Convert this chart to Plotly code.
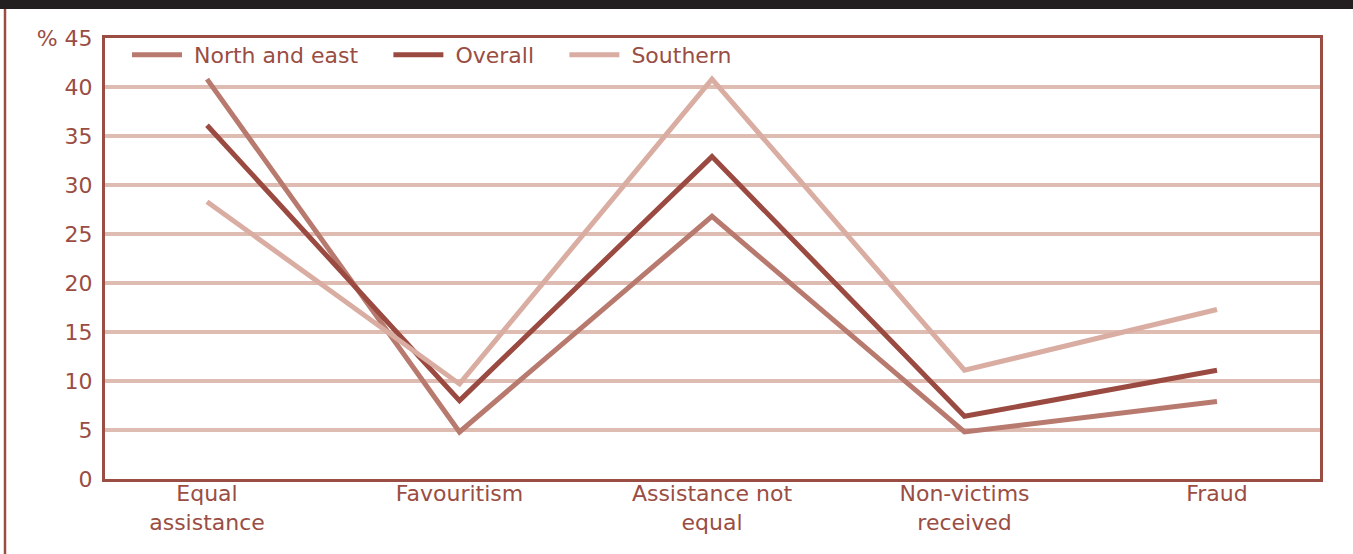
import plotly.graph_objects as go

categories = ["Equal<br>assistance", "Favouritism", "Assistance not<br>equal", "Non-victims<br>received", "Fraud"]
series_names = ["North and east", "Overall", "Southern"]
north_east = [40.8, 4.8, 26.8, 4.8, 7.9]
overall = [36.1, 8.0, 32.9, 6.4, 11.1]
southern = [28.3, 9.7, 40.8, 11.1, 17.3]
y_ticks = [0, 5, 10, 15, 20, 25, 30, 35, 40, 45]
y_ticktext = ["0", "5", "10", "15", "20", "25", "30", "35", "40", "%\u00a045"]
grid_vals = [5, 10, 15, 20, 25, 30, 35, 40]

TEXT = "#9a4d43"
FONT = "DejaVu Sans"
LEAD = "\u00a0"
PAD = "\u00a0" * 3 + "\u2009"

fig = go.Figure()
series = [(series_names[0], north_east, "#b87a6e"),
          (series_names[1], overall, "#9a4a40"),
          (series_names[2], southern, "#d9ada2")]
xs = list(range(len(categories)))
for i, (name, vals, col) in enumerate(series):
    label = LEAD + name + (PAD if i < len(series) - 1 else "")
    fig.add_trace(go.Scatter(x=xs, y=vals, name=label, mode="lines",
                             line=dict(color=col, width=5)))

# invisible trace on yaxis2 to carry gridlines
fig.add_trace(go.Scatter(x=[0], y=[0], yaxis="y2", showlegend=False,
                         mode="markers", marker=dict(opacity=0), hoverinfo="skip"))

L, R, T, B = 105, 33, 38, 75
W, H = 1353, 554
pw, ph = W - L - R, H - T - B

def px(xp):
    return (xp - L) / pw

def py(yp):
    return (H - B - yp) / ph

fig.update_layout(
    width=W, height=H,
    margin=dict(l=L, r=R, t=T, b=B),
    paper_bgcolor="white", plot_bgcolor="white",
    font=dict(family=FONT, color=TEXT, size=21),
    xaxis=dict(range=[-0.404, 4.408], tickvals=xs, ticktext=categories,
               showgrid=False, zeroline=False, showline=True, mirror=True,
               linecolor=TEXT, linewidth=3, ticks="", ticklabelstandoff=-7,
               tickfont=dict(size=22, color=TEXT, family=FONT)),
    yaxis=dict(range=[0, 45], tickvals=y_ticks, ticktext=y_ticktext,
               showgrid=False, zeroline=False, showline=True, mirror=True,
               linecolor=TEXT, linewidth=3, ticks="", ticklabelstandoff=5,
               tickfont=dict(size=22, color=TEXT, family=FONT)),
    yaxis2=dict(range=[0, 45], overlaying="y", tickvals=grid_vals,
                showticklabels=False, showgrid=True, gridcolor="#dfbcb2",
                gridwidth=4, zeroline=False, layer="below traces"),
    legend=dict(orientation="h", x=px(127), y=py(34), xanchor="left", yanchor="top",
                bgcolor="rgba(0,0,0,0)", font=dict(size=22, color=TEXT, family=FONT),
                itemwidth=50, tracegroupgap=0),
    showlegend=True,
    shapes=[
        dict(type="rect", xref="paper", yref="paper", x0=px(0), x1=px(W), y0=py(9), y1=py(0),
             fillcolor="#231f20", line=dict(width=0), layer="above"),
        dict(type="line", xref="paper", yref="paper", x0=px(5), x1=px(5), y0=py(9), y1=py(H),
             line=dict(color=TEXT, width=2.5)),
    ],
)

fig.write_html("out.html", config={"displayModeBar": False},
               post_script="document.body.style.margin='0';document.body.style.overflow='hidden';")
